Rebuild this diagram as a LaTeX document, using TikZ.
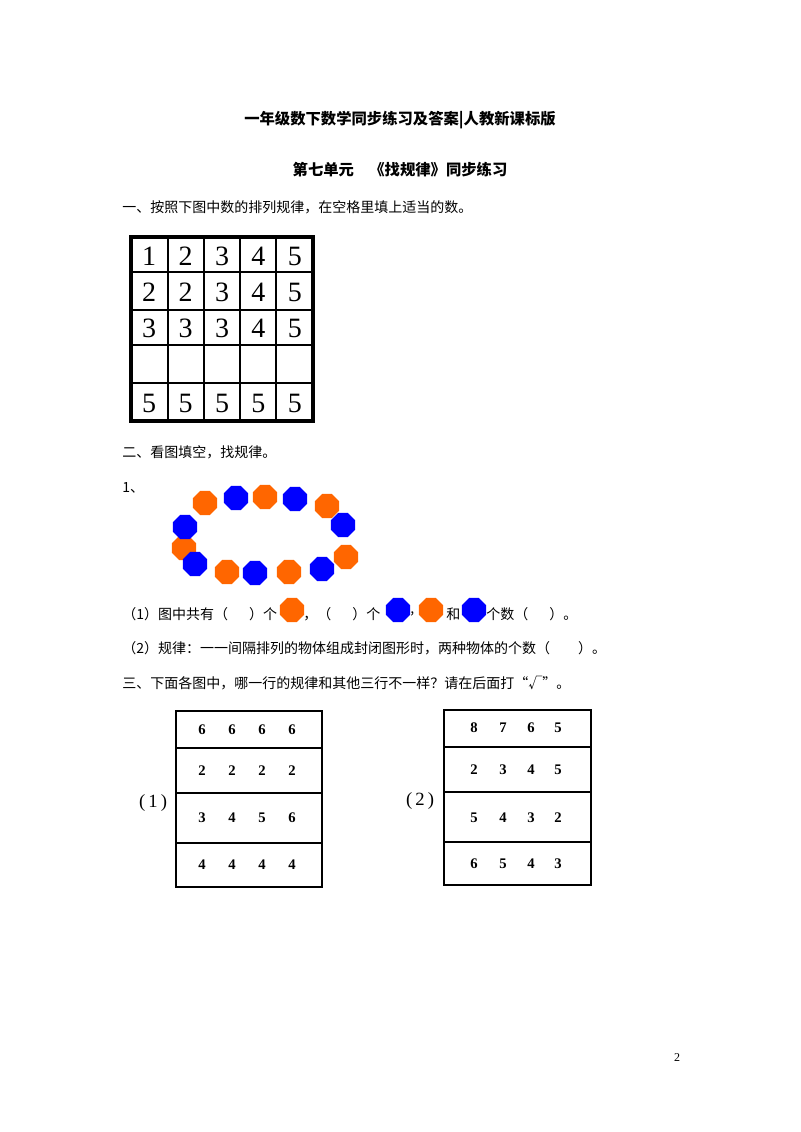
\documentclass[tikz,border=0pt]{standalone}
\usepackage{fontspec}
\setmainfont{Liberation Serif}
\newfontfamily\cjk{Noto Sans CJK SC}
\usetikzlibrary{shapes.geometric}
\definecolor{orng}{RGB}{255,102,0}
\definecolor{blu}{RGB}{0,0,255}
\begin{document}
\begin{tikzpicture}[x=0.75pt,y=-0.75pt,
  txt/.style={anchor=west,inner sep=0pt,font=\cjk\fontsize{10.5}{12}\selectfont},
  oct/.style={regular polygon,regular polygon sides=8,minimum size=26*0.75pt,inner sep=0pt,draw=none,fill=#1},
  big/.style={font=\fontsize{21}{22}\selectfont,inner sep=0pt},
  num/.style={font=\bfseries\fontsize{11}{12}\selectfont,inner sep=0pt}]
\useasboundingbox (0,0) rectangle (800,1132);
\node[font=\cjk\bfseries\fontsize{11.5}{13}\selectfont] (t1) at (400,120) {一年级数下数学同步练习及答案|人教新课标版};
\node[font=\cjk\bfseries\fontsize{11.5}{13}\selectfont] (t2) at (400,170) {第七单元\quad《找规律》同步练习};
\node[txt] (q1) at (122,207) {一、按照下图中数的排列规律，在空格里填上适当的数。};
% grid
\draw[line width=3pt] (131,237) rectangle (313,421);
\foreach \x in {168,204,240,276} \draw[line width=1pt] (\x,237) -- (\x,421);
\foreach \y in {272,310,345,383} \draw[line width=1pt] (131,\y) -- (313,\y);
\foreach \r/\y/\vals in {1/256/{1,2,3,4,5},2/292/{2,2,3,4,5},3/328/{3,3,3,4,5},5/403/{5,5,5,5,5}}{
  \foreach \v [count=\c] in \vals {
    \pgfmathsetmacro\cx{131+36.4*(\c-0.5)}
    \node[big] (g\r\c) at (\cx,\y) {\v};
  }
}
\node[txt] (q2) at (122,452) {二、看图填空，找规律。};
\node[txt] (q21) at (122,488) {1、};
% octagons
\foreach \x/\y/\c [count=\i] in {205/503/orng,236/498/blu,265/497/orng,295/499/blu,327/506/orng,343/525/blu,346/557/orng,322/569/blu,289/572/orng,255/573/blu,227/572/orng,184/548/orng,195/564/blu,185/527/blu}
  \node[oct=\c] (o\i) at (\x,\y) {};
\node[txt] (s1a) at (122,614) {（1）图中共有（\quad\enspace）个};
\node[oct=orng] (i1) at (292,610) {};
\node[txt] (s1b) at (303,614) {，（\quad\enspace）个};
\node[oct=blu] (i2) at (398,610) {};
\node[txt] (s1c) at (410,614) {,};
\node[oct=orng] (i3) at (431,610) {};
\node[txt] (s1d) at (446,614) {和};
\node[oct=blu] (i4) at (474,610) {};
\node[txt] (s1e) at (486,614) {个数（\quad\enspace）。};
\node[txt] (s2) at (122,648) {（2）规律：一一间隔排列的物体组成封闭图形时，两种物体的个数（\qquad）。};
\node[txt] (q3) at (122,683) {三、下面各图中，哪一行的规律和其他三行不一样？请在后面打“√”。};
% tables
\draw[line width=0.8pt] (176,711) rectangle (322,887);
\foreach \y in {748,793,843} \draw[line width=0.8pt] (176,\y) -- (322,\y);
\draw[line width=0.8pt] (444,710) rectangle (591,885);
\foreach \y in {747,792,842} \draw[line width=0.8pt] (444,\y) -- (591,\y);
\node[font=\fontsize{14}{15}\selectfont] (l1) at (153,803) {(\,1\,)};
\node[font=\fontsize{14}{15}\selectfont] (l2) at (420,801) {(\,2\,)};
\foreach \y/\a/\b/\c/\d in {730/6/6/6/6,771/2/2/2/2,818/3/4/5/6,865/4/4/4/4}{
  \node[num] at (202,\y) {\a};\node[num] at (232,\y) {\b};\node[num] at (262,\y) {\c};\node[num] at (292,\y) {\d};}
\foreach \y/\a/\b/\c/\d in {728/8/7/6/5,770/2/3/4/5,818/5/4/3/2,864/6/5/4/3}{
  \node[num] at (474,\y) {\a};\node[num] at (503,\y) {\b};\node[num] at (531,\y) {\c};\node[num] at (558,\y) {\d};}
\node[font=\fontsize{9}{10}\selectfont] (pg) at (677,1058) {2};
\end{tikzpicture}
\end{document}
